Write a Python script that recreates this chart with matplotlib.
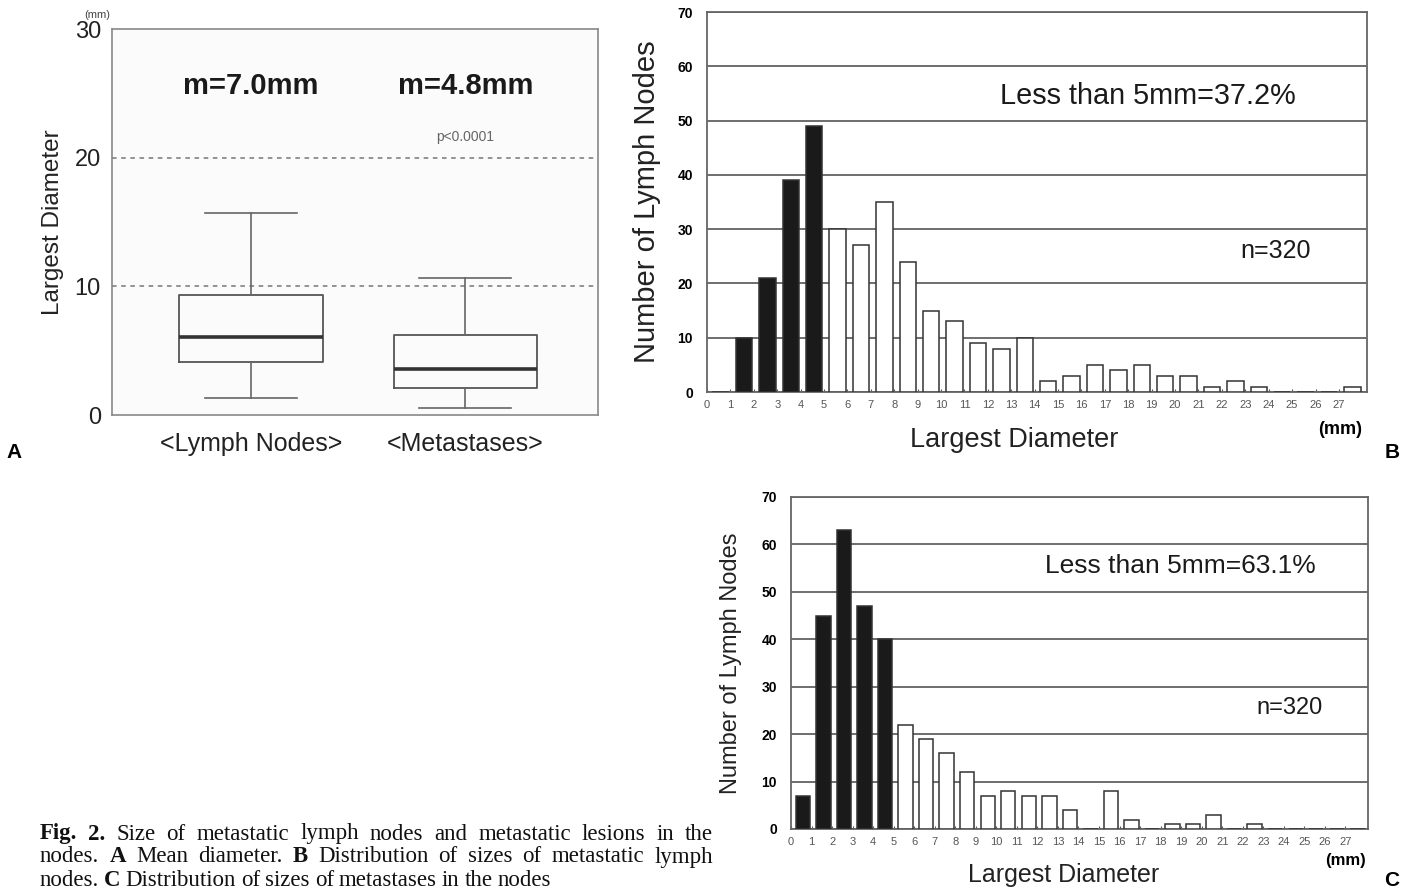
import numpy as np
import matplotlib
matplotlib.use("Agg")
from matplotlib import rcParams, pyplot as plt

rcParams.update({
    "font.family": ["Liberation Sans", "DejaVu Sans"],
})

# ---- data ----
# panel A: box plot summary (mm)
groups = ["<Lymph Nodes>", "<Metastases>"]
whis_lo = [1.35, 0.55]
q1 = [4.1, 2.1]
med = [6.1, 3.55]
q3 = [9.3, 6.2]
whis_hi = [15.7, 10.65]
means = ["m=7.0mm", "m=4.8mm"]

# panel B / C: counts per 1 mm bin (0..27)
bins = np.arange(28)
counts_b = [0, 10, 21, 39, 49, 30, 27, 35, 24, 15, 13, 9, 8, 10,
            2, 3, 5, 4, 5, 3, 3, 1, 2, 1, 0, 0, 0, 1]
counts_c = [7, 45, 63, 47, 40, 22, 19, 16, 12, 7, 8, 7, 7, 4,
            0, 8, 2, 0, 1, 1, 3, 0, 1, 0, 0, 0, 0, 0]
cut = 5  # bins below 5 mm drawn black

fig = plt.figure(figsize=(14.15, 8.91), dpi=100)
W, H = 1415, 891


def axes_px(l, t, r, b):
    return fig.add_axes([l / W, 1 - b / H, (r - l) / W, (b - t) / H])


# ---------------- panel A ----------------
axA = axes_px(112, 29, 598, 415)
axA.set_facecolor("#fbfbfb")
stats = []
for i in range(2):
    stats.append(dict(whislo=whis_lo[i], q1=q1[i], med=med[i], q3=q3[i],
                      whishi=whis_hi[i], label=groups[i]))
axA.bxp(stats, positions=[1, 2], widths=0.67, capwidths=0.43, showfliers=False,
        boxprops=dict(color="#555555", lw=1.3),
        medianprops=dict(color="#333333", lw=2.6),
        whiskerprops=dict(color="#666666", lw=1.2),
        capprops=dict(color="#666666", lw=1.2))
for yv in [10, 20]:
    axA.axhline(yv, color="#777777", lw=1.1, ls=(0, (3, 3)), zorder=0)
axA.set_xlim(0.35, 2.62)
axA.set_ylim(0, 30)
axA.set_yticks([0, 10, 20, 30])
axA.tick_params(axis="y", length=0, labelsize=17, pad=8, labelcolor="#222222")
axA.tick_params(axis="x", length=0, labelsize=18, pad=12, labelcolor="#222222")
for s in axA.spines.values():
    s.set_color("#888888")
    s.set_linewidth(1.2)
axA.set_ylabel("Largest Diameter", fontsize=17.5, color="#222222", labelpad=8)
for i in range(2):
    axA.text(i + 1, 25.6, means[i], fontsize=21, fontweight="bold",
             ha="center", va="center", color="#1a1a1a")
axA.text(2.0, 21.6, "p<0.0001", fontsize=10, color="#666666", ha="center", va="center")
axA.text(-0.03, 1.036, "(mm)", transform=axA.transAxes, fontsize=8,
         color="#444444", ha="center", va="center")
fig.text(14 / W, 1 - 452 / H, "A", fontsize=15, fontweight="bold", ha="center", va="center")


# ---------------- panels B and C ----------------
def hist_panel(ax, counts, xmax, note, note_xy, note_size, n_xy, n_size):
    colors = ["#1a1a1a" if b < cut else "white" for b in bins]
    ax.bar(bins + 0.58, counts, width=0.7, color=colors, edgecolor="#333333",
           lw=1.1, zorder=3)
    ax.set_xlim(0, xmax)
    ax.set_ylim(0, 70)
    ax.set_yticks(np.arange(0, 71, 10))
    ax.set_xticks(bins)
    ax.yaxis.grid(True, color="#555555", lw=1.2, zorder=0)
    ax.set_axisbelow(True)
    ax.tick_params(axis="y", length=0, labelsize=10, pad=10)
    for lab in ax.get_yticklabels():
        lab.set_fontweight("bold")
    ax.tick_params(axis="x", direction="in", length=2, labelsize=8,
                   labelcolor="#555555", color="#555555", pad=6)
    for s in ax.spines.values():
        s.set_color("#666666")
        s.set_linewidth(1.3)
    ax.text(note_xy[0], note_xy[1], note, fontsize=note_size, ha="center", va="center",
            color="#1a1a1a")
    ax.text(n_xy[0], n_xy[1], "n=320", fontsize=n_size, ha="center", va="center",
            color="#1a1a1a")


axB = axes_px(707, 12, 1367, 392)
hist_panel(axB, counts_b, 28.2, "Less than 5mm=37.2%", (18.85, 54.5), 20.8,
           (24.3, 26), 18)
axB.set_ylabel("Number of Lymph Nodes", fontsize=21, color="#222222", labelpad=12)
axB.text(0.465, -0.126, "Largest Diameter", transform=axB.transAxes, fontsize=19.5,
         color="#222222", ha="center", va="center")
fig.text(1340 / W, 1 - 430 / H, "(mm)", fontsize=13, fontweight="bold", ha="center", va="center")
fig.text(1392 / W, 1 - 452 / H, "B", fontsize=15, fontweight="bold", ha="center", va="center")

axC = axes_px(791, 497, 1368, 829)
hist_panel(axC, counts_c, 28.1, "Less than 5mm=63.1%", (18.95, 55.5), 19,
           (24.3, 25.5), 17)
axC.set_ylabel("Number of Lymph Nodes", fontsize=17, color="#222222", labelpad=14)
axC.text(0.473, -0.1386, "Largest Diameter", transform=axC.transAxes, fontsize=18,
         color="#222222", ha="center", va="center")
fig.text(1345 / W, 1 - 860 / H, "(mm)", fontsize=12, fontweight="bold", ha="center", va="center")
fig.text(1392 / W, 1 - 880 / H, "C", fontsize=15, fontweight="bold", ha="center", va="center")

# ---------------- caption ----------------
# words with bold flag; first two lines are justified like the journal text
caption = [
    ("Fig. 2.|b Size of metastatic lymph nodes and metastatic lesions in the", True),
    ("nodes. A|b Mean diameter. B|b Distribution of sizes of metastatic lymph", True),
    ("nodes. C|b Distribution of sizes of metastases in the nodes", False),
]
renderer = fig.canvas.get_renderer()
x0, x1 = 40.0, 713.0
for i, (line, justify) in enumerate(caption):
    y = H - (834 + 23 * i)
    words = line.replace("Fig. 2.|b", "Fig.|b 2.|b").split(" ")
    items = []
    for w in words:
        bold = w.endswith("|b")
        t = fig.text(0, y, w.replace("|b", ""), transform=None, fontsize=16.5,
                     family="Liberation Serif", fontweight="bold" if bold else "normal",
                     ha="left", va="center", color="#111111")
        items.append((t, t.get_window_extent(renderer).width))
    total = sum(wd for _, wd in items)
    gap = (x1 - x0 - total) / (len(items) - 1) if justify else 5.0
    x = x0
    for t, wd in items:
        t.set_x(x)
        x += wd + gap

fig.savefig("out.png", dpi=100)
